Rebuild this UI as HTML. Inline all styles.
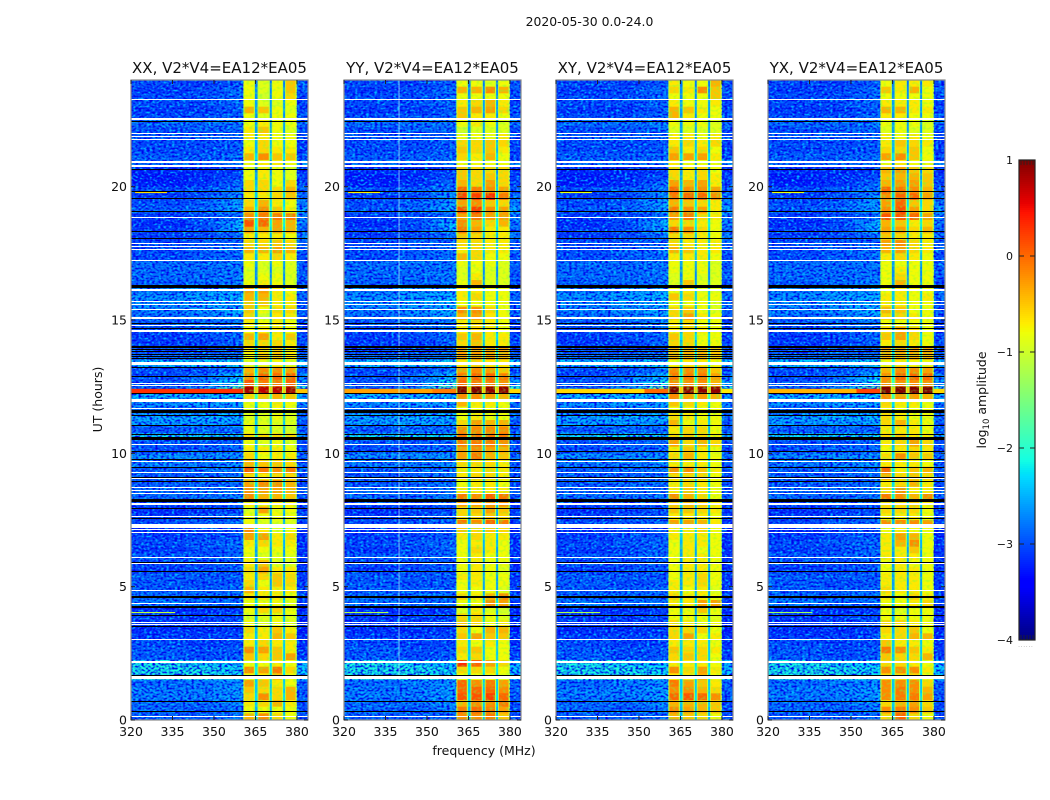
<!DOCTYPE html>
<html>
<head>
<meta charset="utf-8">
<title>2020-05-30 0.0-24.0</title>
<style>
html,body{margin:0;padding:0;background:#fff;width:1050px;height:800px;overflow:hidden}
svg{display:block}
text{font-family:"DejaVu Sans","Liberation Sans",sans-serif;fill:#111}
</style>
</head>
<body>
<svg id="chart" xmlns="http://www.w3.org/2000/svg" width="1050" height="800" viewBox="0 0 1050 800">
<defs>
<filter id="speckle-light" x="0" y="0" width="100%" height="100%" color-interpolation-filters="sRGB"><feTurbulence type="fractalNoise" baseFrequency="0.36 0.5" numOctaves="1" seed="3"/><feColorMatrix type="matrix" values="0 0 0 0 0 0 0 0 0 0.72 0 0 0 0 1 3.2 0 0 0 -1.4"/></filter>
<filter id="speckle-dark" x="0" y="0" width="100%" height="100%" color-interpolation-filters="sRGB"><feTurbulence type="fractalNoise" baseFrequency="0.36 0.5" numOctaves="1" seed="11"/><feColorMatrix type="matrix" values="0 0 0 0 0 0 0 0 0 0 0 0 0 0 0.92 3.2 0 0 0 -1.35"/></filter>
<filter id="speckle-band" x="0" y="0" width="100%" height="100%" color-interpolation-filters="sRGB"><feTurbulence type="fractalNoise" baseFrequency="0.3 0.4" numOctaves="1" seed="7"/><feColorMatrix type="matrix" values="0 0 0 0 0.45 0 0 0 0 1 0 0 0 0 0.25 2.2 0 0 0 -1.05"/></filter>
</defs>
<text x="589.5" y="26" font-size="12.4" text-anchor="middle">2020-05-30 0.0-24.0</text>
<text x="484" y="755" font-size="12.5" text-anchor="middle">frequency (MHz)</text>
<text transform="translate(102,399.5) rotate(-90)" font-size="12.5" text-anchor="middle">UT (hours)</text>
<text transform="translate(986,400) rotate(-90)" font-size="12.5" text-anchor="middle">log<tspan font-size="8.5" dy="3">10</tspan><tspan dy="-3"> amplitude</tspan></text>
<g id="panels"></g>
<g id="colorbar"></g>
<text x="1026" y="647" font-size="5" fill="#777" style="fill:#777;letter-spacing:1px" text-anchor="middle">......</text>
</svg>
<script>
// Axis values
var tickHours = [0, 5, 10, 15, 20];
var tickFreqs = [320, 335, 350, 365, 380];
var cbarTicks = [-4, -3, -2, -1, 0, 1];
var cbarMinorTicks = [-3.96, -3.92, -3.88, -3.84, -3.8, 0.8, 0.84, 0.88, 0.92, 0.96];
var panelNames = ['XX', 'YY', 'XY', 'YX'];
var panelLefts = [131, 344, 556, 768];
var titleSuffix = ', V2*V4=EA12*EA05';

// Frequency columns in MHz
var offBandEdges = [[320, 340], [340, 354], [354, 360.6], [379.9, 384]];
var bandEdges = [[360.6, 364.8], [365.65, 370.2], [370.8, 375], [375.6, 379.9]];
var gapEdges = [[364.8, 365.65], [370.2, 370.8], [375, 375.6]];

// Rows run from 24 h downward in quarter-hour bins; amplitudes are log10 in tenths.
var offBandLevels = [
[-30,-31,-29,-30],[-31,-30,-28,-29],[-30,-30,-28,-30],[-30,-30,-28,-31],[-31,-31,-29,-30],[-30,-30,-28,-29],[-28,-28,-27,-28],[-30,-29,-28,-30],
[-29,-29,-28,-30],[-30,-30,-29,-31],[-30,-30,-29,-31],[-29,-29,-28,-30],[-28,-28,-27,-26],[-32,-32,-31,-32],[-33,-32,-30,-31],[-33,-32,-28,-30],
[-30,-29,-27,-29],[-31,-30,-26,-28],[-30,-29,-25,-27],[-29,-28,-25,-25],[-31,-30,-28,-27],[-32,-30,-24,-27],[-31,-30,-24,-28],[-31,-30,-28,-27],
[-30,-29,-28,-29],[-30,-29,-27,-29],[-30,-29,-28,-30],[-28,-28,-27,-29],[-28,-28,-27,-29],[-28,-28,-27,-29],[-29,-28,-27,-30],[-27,-26,-25,-28],
[-26,-25,-24,-28],[-26,-25,-24,-29],[-27,-26,-24,-29],[-28,-27,-25,-29],[-29,-28,-27,-31],[-30,-29,-28,-31],[-31,-30,-28,-30],[-31,-31,-28,-30],
[-30,-30,-29,-30],[-28,-28,-27,-28],[-23,-23,-22,-23],[-30,-30,-27,-30],[-30,-28,-23,-27],[-29,-27,-21,-25],[-29,-27,-14,-20],[-24,-24,-23,-25],
[-26,-25,-25,-27],[-28,-28,-27,-28],[-25,-24,-24,-28],[-25,-25,-25,-29],[-29,-28,-28,-29],[-22,-22,-22,-24],[-29,-29,-28,-30],[-30,-29,-28,-30],
[-26,-26,-26,-28],[-27,-27,-26,-29],[-29,-28,-27,-29],[-29,-29,-28,-30],[-29,-28,-28,-30],[-28,-28,-27,-29],[-28,-28,-27,-29],[-30,-30,-29,-31],
[-32,-31,-30,-31],[-31,-30,-29,-30],[-30,-29,-28,-31],[-32,-31,-30,-32],[-31,-30,-29,-32],[-30,-29,-28,-32],[-31,-30,-28,-32],[-29,-29,-28,-31],
[-30,-30,-29,-32],[-31,-30,-29,-32],[-29,-29,-29,-31],[-29,-30,-29,-31],[-29,-29,-28,-31],[-28,-28,-28,-30],[-27,-28,-28,-31],[-32,-32,-31,-32],
[-31,-31,-30,-32],[-31,-31,-30,-32],[-32,-32,-31,-33],[-31,-31,-30,-32],[-30,-31,-30,-32],[-29,-30,-29,-31],[-29,-30,-29,-31],[-21,-22,-23,-24],
[-21,-21,-22,-23],[-21,-21,-22,-23],[-28,-27,-26,-29],[-27,-27,-25,-29],[-27,-27,-25,-29],[-28,-28,-26,-30],[-28,-29,-27,-30],[-29,-29,-28,-30]
];

var gapLevels = [
-25,-24,-24,-23,-23,-24,-23,-23,-23,-22,-22,-20,-24,-24,-23,-22,-21,-21,-20,-19,-20,-19,-20,-22,
-22,-21,-22,-23,-24,-24,-23,-21,-21,-21,-22,-22,-22,-23,-20,-22,-20,-20,-19,-20,-19,-17,-2,-16,
-20,-23,-22,-21,-22,-16,-22,-21,-20,-21,-19,-21,-20,-20,-19,-21,-22,-23,-22,-20,-21,-22,-23,-23,
-23,-23,-23,-23,-23,-22,-20,-23,-22,-21,-22,-21,-21,-21,-21,-20,-19,-20,-21,-21,-20,-21,-22,-22
];

var xxBand = [
[-9,-10,-9,-6],[-9,-10,-9,-6],[-9,-11,-9,-7],[-9,-10,-10,-9],[-5,-6,-9,-10],[-9,-10,-9,-9],[-9,-8,-9,-9],[-8,-6,-9,-10],
[-8,-8,-9,-9],[-9,-7,-9,-9],[-8,-7,-8,-8],[-5,-3,-6,-6],[-9,-8,-8,-9],[-9,-8,-9,-10],[-9,-8,-9,-10],[-7,-7,-9,-7],
[-7,-7,-7,-5],[-8,-8,-7,-6],[-7,-5,-8,-9],[-5,-3,-6,-8],[-3,-2,-2,-2],[0,-1,-4,-5],[-4,-5,-4,-5],[-8,-8,-8,-9],
[-7,-7,-6,-7],[-5,-5,-4,-5],[-8,-8,-7,-8],[-9,-10,-9,-10],[-10,-10,-10,-10],[-10,-9,-9,-10],[-9,-8,-9,-10],[-4,-4,-8,-9],
[-5,-5,-8,-8],[-6,-6,-8,-8],[-6,-9,-7,-7],[-7,-11,-8,-8],[-8,-9,-8,-9],[-9,-8,-8,-9],[-5,-4,-8,-6],[-7,-7,-7,-8],
[-8,-7,-6,-8],[-9,-6,-6,-8],[-10,-10,-9,-10],[-5,-3,-3,-4],[-3,-1,-1,-1],[0,-2,-2,-1],[7,6,6,7],[-7,-6,-5,-6],
[-9,-9,-8,-9],[-10,-10,-9,-10],[-10,-10,-9,-10],[-9,-10,-10,-10],[-9,-10,-10,-11],[-7,-7,-7,-7],[-9,-10,-9,-10],[-8,-8,-8,-9],
[-7,-9,-8,-8],[-5,-6,-6,-7],[0,-2,-3,-2],[-7,-8,-7,-7],[-4,-3,-3,-5],[-3,-4,-4,-5],[-3,-5,-5,-6],[-8,-8,-8,-8],
[-10,-4,-9,-9],[-9,-9,-9,-9],[-9,-10,-10,-10],[-3,-8,-10,-9],[-4,-4,-8,-7],[-8,-7,-8,-8],[-9,-9,-9,-9],[-9,-10,-10,-10],
[-8,-6,-10,-10],[-7,-4,-8,-8],[-8,-7,-6,-7],[-7,-9,-6,-7],[-5,-8,-8,-8],[-8,-8,-8,-9],[-9,-9,-9,-10],[-9,-7,-7,-9],
[-10,-10,-9,-10],[-9,-10,-9,-10],[-7,-8,-6,-8],[-8,-8,-5,-6],[-8,-7,-8,-8],[-3,-4,-6,-8],[-6,-7,-6,-4],[-9,-9,-8,-9],
[-3,-4,-2,-7],[-9,-8,-6,-9],[-4,-6,-8,-9],[-6,-7,-7,-5],[-7,-3,-7,-5],[-8,-7,-5,-8],[-9,-9,-9,-9],[-5,-3,-7,-9]
];

var yyBand = [
[-9,-9,-10,-9],[-5,-5,-3,-5],[-9,-9,-9,-9],[-8,-7,-5,-8],[-6,-5,-4,-7],[-6,-8,-8,-9],[-9,-8,-9,-10],[-11,-10,-10,-10],
[-9,-9,-9,-8],[-7,-7,-6,-7],[-6,-7,-6,-8],[-7,-8,-5,-9],[-9,-9,-9,-9],[-6,-7,-7,-7],[-6,-7,-6,-7],[-5,-7,-4,-7],
[-1,-2,-3,-4],[1,1,2,-2],[-4,-3,-6,-7],[0,1,-3,-4],[-4,-2,-4,-4],[-3,-5,-7,-5],[-2,-4,-8,-8],[-6,-7,-8,-8],
[-7,-7,-8,-8],[-8,-7,-8,-8],[-5,-7,-9,-9],[-9,-9,-9,-10],[-10,-9,-10,-10],[-10,-8,-10,-10],[-9,-5,-10,-10],[-8,-8,-9,-9],
[-8,-7,-9,-9],[-9,-9,-9,-9],[-3,-3,-7,-9],[-5,-4,-8,-9],[-8,-7,-8,-9],[-8,-7,-8,-9],[-6,-5,-8,-8],[-7,-6,-8,-8],
[-4,-4,-4,-4],[-4,-4,-4,-5],[-8,-7,-8,-8],[-4,-3,-4,-6],[-2,-1,-1,-2],[-1,-2,-2,-3],[9,9,8,8],[-3,-3,-4,-5],
[-5,-8,-8,-9],[-9,-9,-9,-9],[-9,-8,-9,-9],[-7,-4,-5,-5],[-3,-3,-3,-3],[-2,-2,-2,-2],[-2,-2,-2,-3],[-4,-3,-4,-5],
[-4,-2,-5,-6],[-7,-7,-7,-8],[-8,-8,-7,-8],[-8,-7,-7,-8],[-9,-8,-8,-9],[-8,-8,-8,-8],[-2,-3,-1,-2],[-4,-4,-3,-3],
[-7,-6,-4,-6],[-7,-7,-6,-7],[-2,-3,-1,-2],[-6,-7,-6,-7],[-8,-7,-8,-8],[-9,-8,-8,-9],[-9,-7,-8,-9],[-9,-8,-9,-9],
[-9,-8,-9,-9],[-9,-8,-9,-10],[-8,-8,-9,-9],[-9,-8,-9,-9],[-9,-9,-9,-10],[-7,-8,-5,-3],[-9,-9,-3,-4],[-10,-8,-10,-11],
[-7,-7,-9,-10],[-6,-7,-9,-8],[-7,-9,-5,-5],[-6,-4,-6,-6],[-8,-9,-8,-9],[-7,-6,-9,-9],[-8,-7,-9,-9],[2,-1,-4,-7],
[-7,-7,-7,-9],[-9,-9,-9,-10],[-1,-3,-2,-4],[-1,-1,-1,-3],[0,0,1,-1],[-5,-3,-3,-2],[-2,-1,-2,-4],[-3,-3,-2,-6]
];

var xyBand = [
[-8,-9,-9,-5],[-7,-8,-3,-6],[-9,-9,-9,-6],[-8,-9,-9,-8],[-5,-6,-8,-9],[-5,-8,-9,-9],[-9,-9,-9,-10],[-10,-10,-10,-10],
[-8,-8,-9,-8],[-8,-7,-8,-7],[-6,-8,-7,-9],[-4,-4,-4,-8],[-8,-9,-9,-9],[-7,-8,-7,-9],[-7,-8,-7,-8],[-4,-5,-4,-8],
[-1,-3,-3,-4],[-2,-1,-1,-3],[-5,-6,-7,-8],[-2,-3,-4,-8],[-4,-2,-7,-8],[-7,-7,-8,-9],[-2,-3,-7,-9],[-7,-7,-8,-9],
[-7,-8,-8,-8],[-5,-6,-8,-8],[-8,-8,-8,-9],[-9,-9,-9,-10],[-9,-9,-9,-10],[-10,-9,-10,-10],[-10,-6,-10,-10],[-9,-8,-10,-10],
[-6,-7,-9,-9],[-9,-9,-9,-10],[-7,-6,-9,-10],[-7,-4,-8,-9],[-8,-7,-9,-9],[-8,-7,-8,-9],[-6,-7,-9,-9],[-7,-7,-9,-9],
[-5,-5,-5,-6],[-5,-5,-5,-6],[-9,-8,-8,-9],[-3,-3,-3,-6],[-2,-2,-2,-4],[-3,-3,-3,-5],[9,8,8,8],[-3,-4,-4,-5],
[-6,-7,-8,-9],[-9,-9,-9,-9],[-7,-8,-9,-9],[-5,-9,-8,-9],[-8,-7,-7,-9],[-7,-6,-7,-8],[-4,-7,-5,-7],[-8,-6,-8,-9],
[-7,-5,-8,-9],[-8,-8,-8,-9],[-3,-3,-6,-8],[-7,-7,-7,-9],[-8,-7,-8,-9],[-8,-6,-8,-9],[-3,-5,-7,-9],[-6,-5,-6,-8],
[-6,-6,-7,-8],[-8,-8,-8,-9],[-4,-4,-5,-8],[-8,-8,-7,-9],[-8,-8,-8,-9],[-9,-8,-8,-9],[-9,-8,-9,-9],[-9,-8,-8,-9],
[-9,-8,-8,-9],[-9,-8,-8,-9],[-9,-8,-7,-9],[-8,-8,-7,-9],[-8,-9,-8,-10],[-7,-8,-8,-9],[-8,-8,-4,-4],[-9,-9,-6,-9],
[-9,-9,-9,-10],[-7,-8,-9,-9],[-7,-7,-7,-9],[-7,-4,-9,-8],[-8,-8,-8,-9],[-6,-7,-7,-8],[-7,-6,-7,-9],[-8,-8,-8,-9],
[-3,-7,-4,-8],[-8,-8,-5,-9],[-2,-4,-6,-8],[-3,-3,-5,-7],[-1,0,-1,-3],[-5,-5,-5,-6],[-3,-4,-5,-6],[-5,-6,-7,-9]
];

var yxBand = [
[-9,-8,-8,-8],[-6,-8,-5,-9],[-9,-9,-9,-9],[-8,-8,-8,-9],[-5,-5,-8,-8],[-8,-8,-9,-9],[-9,-9,-9,-10],[-10,-9,-10,-10],
[-8,-9,-8,-9],[-8,-6,-7,-8],[-7,-7,-6,-9],[-4,-3,-6,-9],[-9,-8,-9,-9],[-5,-4,-6,-7],[-6,-5,-5,-6],[-5,-4,-4,-6],
[-1,-2,-3,-5],[-3,-1,-1,-4],[-4,-1,-6,-7],[-3,0,-4,-7],[0,0,-1,-4],[-5,-6,-8,-7],[-4,-4,-7,-5],[-6,-7,-8,-8],
[-4,-3,-7,-8],[-5,-4,-7,-8],[-8,-7,-8,-9],[-9,-9,-9,-9],[-9,-8,-9,-9],[-9,-7,-9,-9],[-9,-5,-9,-9],[-9,-8,-9,-9],
[-8,-8,-9,-8],[-8,-8,-9,-9],[-5,-6,-9,-9],[-7,-7,-8,-9],[-9,-9,-9,-9],[-7,-4,-7,-9],[-6,-4,-7,-9],[-8,-7,-8,-9],
[-4,-4,-4,-4],[-5,-5,-5,-5],[-9,-8,-9,-9],[-5,-3,-3,-4],[-3,-1,-1,-1],[-3,-3,-3,-3],[10,10,9,9],[-3,-4,-4,-5],
[-7,-8,-8,-9],[-8,-9,-9,-9],[-7,-8,-9,-9],[-7,-5,-8,-9],[-8,-8,-8,-9],[-7,-6,-8,-8],[-8,-7,-4,-7],[-9,-8,-7,-8],
[-7,-3,-6,-6],[-8,-8,-8,-9],[-1,-8,-6,-5],[-5,-7,-6,-7],[-8,-7,-5,-8],[-7,-3,-8,-8],[-2,-3,-5,-3],[-7,-7,-6,-8],
[-7,-7,-7,-9],[-8,-8,-8,-9],[-3,-3,-3,-4],[-9,-8,-9,-9],[-8,-4,-5,-9],[-8,-5,-3,-9],[-8,-8,-6,-9],[-8,-8,-8,-9],
[-9,-8,-9,-9],[-9,-8,-8,-9],[-8,-8,-8,-9],[-8,-8,-8,-9],[-7,-8,-8,-9],[-8,-9,-7,-8],[-9,-9,-8,-7],[-9,-10,-9,-9],
[-9,-9,-9,-9],[-7,-7,-8,-9],[-7,-7,-6,-9],[-8,-7,-5,-5],[-6,-8,-8,-9],[-2,-3,-6,-8],[-6,-7,-7,-5],[-7,-7,-8,-9],
[-3,-3,-3,-8],[-7,-7,-7,-9],[-3,-3,-3,-7],[-3,-2,-3,-5],[-3,-2,-2,-4],[-7,-5,-4,-7],[-3,-2,-3,-6],[-7,-1,-7,-9]
];

// Flagged integrations shared by all baselines, hour then thickness in hours
var whiteFlagHours = [23.28,22.52,22.01,21.88,21.77,20.93,20.79,18.83,17.87,17.77,17.63,17.24,16.14,15.69,15.56,15.38,15.06,14.79,14.6,13.37,12.6,12.53,12,11.69,10.31,9.69,9.27,9.04,8.71,8.6,8.5,8.1,7.62,7.28,7.15,7.02,6.1,5.88,4.86,4.38,3.66,3.56,3.03,2.19,1.58,0.13];
var whiteFlagWidths = [0.05,0.08,0.04,0.04,0.04,0.07,0.07,0.05,0.05,0.04,0.05,0.05,0.08,0.05,0.05,0.05,0.09,0.05,0.06,0.12,0.05,0.05,0.11,0.05,0.05,0.04,0.05,0.05,0.05,0.05,0.05,0.08,0.05,0.15,0.05,0.05,0.05,0.04,0.05,0.05,0.05,0.05,0.05,0.08,0.11,0.05];
var blackFlagHours = [22.46,20.62,19.83,19.56,19.06,18.33,18.06,16.24,14.88,14.69,14,13.9,13.81,13.72,13.63,13.57,13.2,12.89,12.24,11.58,11.4,11.03,10.71,10.56,10.06,9.77,9.47,9.1,8.94,8.22,7.94,7.54,5.9,5.55,4.62,4.25,3.9,3.49,1.68,0.69,0.33];
var blackFlagWidths = [0.04,0.05,0.04,0.04,0.04,0.04,0.04,0.11,0.04,0.04,0.07,0.04,0.04,0.04,0.04,0.04,0.04,0.04,0.04,0.12,0.04,0.04,0.04,0.1,0.04,0.04,0.04,0.04,0.04,0.11,0.04,0.04,0.04,0.04,0.07,0.07,0.04,0.04,0.04,0.04,0.04];

// Narrow interference features: start hour, end hour, low MHz, high MHz, log10 level per panel
var burstStartH = [12.26, 12.26, 12.26, 19.76, 4.01];
var burstEndH = [12.42, 12.42, 12.42, 19.8, 4.05];
var burstLowF = [320, 352, 379.9, 321.5, 320];
var burstHighF = [352, 360.6, 384, 333, 336];
var burstLevels = [
[0.3,-0.3,-0.6,-0.4],[0.3,-0.1,0,0.2],[-0.5,-0.6,-0.7,-0.6],[-0.6,-0.7,-0.8,-0.8],[-1.1,-1.2,-1.2,-1.3]
];

// Faint interference channels: MHz per panel
var rfiChannels = [[], [339.9], [], []];

var panelBands = [xxBand, yyBand, xyBand, yxBand];
var vmin = -4, vmax = 1;
var axisTop = 80, axisBottom = 720, axisWidth = 177;
var hourMax = 24, freqMin = 320, freqMax = 384;
var rowHours = 0.25;
var NS = 'http://www.w3.org/2000/svg';

function yScale(h) { return axisBottom - (h / hourMax) * (axisBottom - axisTop); }
function xScale(left, f) { return left + (f - freqMin) / (freqMax - freqMin) * axisWidth; }
function lerpStops(t, stops) {
  if (t <= stops[0][0]) return stops[0][1];
  for (var i = 1; i < stops.length; i++) {
    if (t <= stops[i][0]) {
      var a = stops[i - 1], b = stops[i];
      return a[1] + (b[1] - a[1]) * (t - a[0]) / (b[0] - a[0]);
    }
  }
  return stops[stops.length - 1][1];
}
var jetR = [[0,0],[0.35,0],[0.66,1],[0.89,1],[1,0.5]];
var jetG = [[0,0],[0.125,0],[0.375,1],[0.64,1],[0.91,0],[1,0]];
var jetB = [[0,0.5],[0.11,1],[0.34,1],[0.65,0],[1,0]];
function color(level) {
  var t = Math.max(0, Math.min(1, (level - vmin) / (vmax - vmin)));
  return 'rgb(' + Math.round(255 * lerpStops(t, jetR)) + ',' + Math.round(255 * lerpStops(t, jetG)) + ',' + Math.round(255 * lerpStops(t, jetB)) + ')';
}
function rect(parent, x, y, w, h, fill) {
  var r = document.createElementNS(NS, 'rect');
  r.setAttribute('x', x.toFixed(2));
  r.setAttribute('y', y.toFixed(2));
  r.setAttribute('width', w.toFixed(2));
  r.setAttribute('height', h.toFixed(2));
  r.setAttribute('fill', fill);
  parent.appendChild(r);
  return r;
}
function line(parent, x1, y1, x2, y2, stroke, sw) {
  var l = document.createElementNS(NS, 'line');
  l.setAttribute('x1', x1);
  l.setAttribute('y1', y1);
  l.setAttribute('x2', x2);
  l.setAttribute('y2', y2);
  l.setAttribute('stroke', stroke);
  l.setAttribute('stroke-width', sw);
  parent.appendChild(l);
  return l;
}
function label(parent, x, y, str, size, anchor) {
  var t = document.createElementNS(NS, 'text');
  t.setAttribute('x', x);
  t.setAttribute('y', y);
  t.setAttribute('font-size', size);
  t.setAttribute('text-anchor', anchor);
  t.textContent = str;
  parent.appendChild(t);
  return t;
}
function cell(g, left, f0, f1, rowIndex, level, name) {
  var hTop = hourMax - rowIndex * rowHours;
  var y0 = yScale(hTop);
  var y1 = yScale(hTop - rowHours);
  var x0 = xScale(left, f0);
  var x1 = xScale(left, f1);
  var r = rect(g, x0, y0, x1 - x0 + 0.3, y1 - y0 + 0.3, color(level));
  
  
  return r;
}
function flag(g, left, hour, width, fill, name) {
  var y0 = Math.round(yScale(hour + width / 2));
  var h = Math.max(1, Math.round(width / hourMax * (axisBottom - axisTop)));
  var r = rect(g, left, y0, axisWidth, h, fill);
  r.setAttribute('shape-rendering', 'crispEdges');
  
  
}

function drawPanel(p) {
  var left = panelLefts[p];
  var rows = panelBands[p];
  var root = document.getElementById('panels');
  var g = document.createElementNS(NS, 'g');
  
  
  root.appendChild(g);

  var cells = document.createElementNS(NS, 'g');
  
  
  g.appendChild(cells);

  var bandCalibration = 0.12, gapCalibration = -0.3;
  for (var r = 0; r < rows.length; r++) {
    for (var c = 0; c < offBandEdges.length; c++) {
      cell(cells, left, offBandEdges[c][0], offBandEdges[c][1], r, offBandLevels[r][c] / 10, 'off-band-cell');
    }
    // soften the step between the mid and high off-band columns
    var m = offBandLevels[r][1] / 10, h = offBandLevels[r][2] / 10;
    cell(cells, left, 348, 351.5, r, m + (h - m) * 0.25, 'off-band-blend-cell');
    cell(cells, left, 351.5, 355, r, m + (h - m) * 0.55, 'off-band-blend-cell');
    cell(cells, left, 355, 358, r, m + (h - m) * 0.8, 'off-band-blend-cell');
    for (var k = 0; k < bandEdges.length; k++) {
      var v = rows[r][k] / 10 + bandCalibration;
      var shoulder = Math.min(v, -0.8) - 0.25;
      var e0 = bandEdges[k][0], e1 = bandEdges[k][1];
      cell(cells, left, e0, e0 + 0.4, r, shoulder, 'band-shoulder-cell');
      cell(cells, left, e0 + 0.4, e1 - 0.4, r, v, 'band-cell');
      cell(cells, left, e1 - 0.4, e1, r, shoulder, 'band-shoulder-cell');
    }
    for (var q = 0; q < gapEdges.length; q++) {
      cell(cells, left, gapEdges[q][0], gapEdges[q][1], r, gapLevels[r] / 10 + gapCalibration, 'band-gap-cell');
    }
  }

  // decorative receiver-noise texture
  var tex = [[320, 360.6], [379.9, 384]];
  for (var t = 0; t < tex.length; t++) {
    var tx = xScale(left, tex[t][0]);
    var tw = xScale(left, tex[t][1]) - tx;
    var l1 = rect(g, tx, axisTop, tw, axisBottom - axisTop, '#000');
    l1.setAttribute('filter', 'url(#speckle-light)');
    
    
    var l2 = rect(g, tx, axisTop, tw, axisBottom - axisTop, '#000');
    l2.setAttribute('filter', 'url(#speckle-dark)');
    
    
  }
  var bx = xScale(left, 360.6);
  var bt = rect(g, bx, axisTop, xScale(left, 379.9) - bx, axisBottom - axisTop, '#000');
  bt.setAttribute('filter', 'url(#speckle-band)');
  bt.setAttribute('opacity', '0.7');
  
  

  for (var b = 0; b < burstStartH.length; b++) {
    var bx0 = xScale(left, burstLowF[b]);
    var bx1 = xScale(left, burstHighF[b]);
    var by0 = yScale(burstEndH[b]);
    var by1 = yScale(burstStartH[b]);
    var br = rect(g, bx0, by0, bx1 - bx0, by1 - by0, color(burstLevels[b][p]));
    
    
  }

  for (var ch = 0; ch < rfiChannels[p].length; ch++) {
    var cx = xScale(left, rfiChannels[p][ch]);
    var cl = line(g, cx, axisTop, cx, axisBottom - 40, '#bff', 1);
    cl.setAttribute('opacity', '0.65');
    
    
  }

  for (var w = 0; w < whiteFlagHours.length; w++) {
    flag(g, left, whiteFlagHours[w], whiteFlagWidths[w], '#fff', 'flagged-row-white');
  }
  for (var d = 0; d < blackFlagHours.length; d++) {
    flag(g, left, blackFlagHours[d], blackFlagWidths[d], '#000', 'flagged-row-black');
  }

  var frame = rect(g, left, axisTop, axisWidth, axisBottom - axisTop, 'none');
  frame.setAttribute('stroke', '#8a8a8a');
  frame.setAttribute('stroke-width', '1.2');
  
  

  for (var i = 0; i < tickFreqs.length; i++) {
    var fx = xScale(left, tickFreqs[i]);
    var tb = line(g, fx, axisBottom, fx, axisBottom - 4, '#222', 1);
    
    
    var tt = line(g, fx, axisTop, fx, axisTop + 4, '#222', 1);
    
    
    var xl = label(g, fx, 736, String(tickFreqs[i]), 12.5, 'middle');
    
    
  }
  for (var j = 0; j < tickHours.length; j++) {
    var hy = yScale(tickHours[j]);
    var tl = line(g, left, hy, left + 4, hy, '#222', 1);
    
    
    var trr = line(g, left + axisWidth, hy, left + axisWidth - 4, hy, '#222', 1);
    
    
    var yl = label(g, left - 4, hy + 4.5, String(tickHours[j]), 12.5, 'end');
    
    
  }
  var ttl = label(g, left + axisWidth / 2, 73, panelNames[p] + titleSuffix, 15, 'middle');
  
  
}

function drawColorbar() {
  var g = document.getElementById('colorbar');
  var x0 = 1019, w = 16, top = 160, bottom = 640;
  function cy(v) { return bottom - (v - vmin) / (vmax - vmin) * (bottom - top); }
  for (var y = top; y < bottom; y += 2) {
    var v = vmax - (y + 1 - top) / (bottom - top) * (vmax - vmin);
    var s = rect(g, x0, y, w, 2.2, color(v));
    
    
  }
  var fr = rect(g, x0, top, w, bottom - top, 'none');
  fr.setAttribute('stroke', '#222');
  fr.setAttribute('stroke-width', '1.2');
  
  
  for (var i = 0; i < cbarTicks.length; i++) {
    var yy = cy(cbarTicks[i]);
    var a = line(g, x0, yy, x0 + 5, yy, '#222', 1);
    
    
    var b = line(g, x0 + w, yy, x0 + w - 5, yy, '#222', 1);
    
    
    var str = cbarTicks[i] < 0 ? '\u2212' + Math.abs(cbarTicks[i]) : String(cbarTicks[i]);
    var lb = label(g, 1013, yy + 4, str, 11, 'end');
    
    
  }
  for (var m = 0; m < cbarMinorTicks.length; m++) {
    var mx = x0 + 2 + m % 5 * 3;
    var top0 = cbarMinorTicks[m] > 0;
    var my = top0 ? top : bottom;
    var mk = line(g, mx, my, mx, top0 ? my + 5 : my - 5, '#222', 0.8);
    
    
  }
}

for (var pi = 0; pi < panelNames.length; pi++) { drawPanel(pi); }
drawColorbar();
</script>
</body>
</html>
